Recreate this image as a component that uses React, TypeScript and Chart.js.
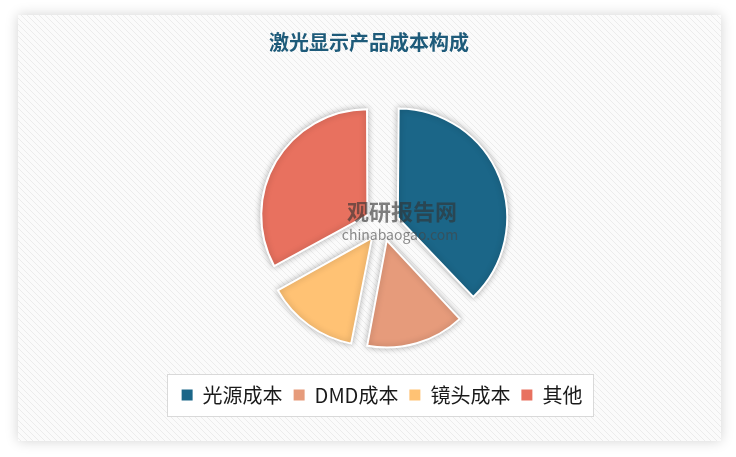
import React, { useEffect, useRef } from 'react';
import { Chart, registerables } from 'chart.js';

Chart.register(...registerables);

const categories = ['光源成本', 'DMD成本', '镜头成本', '其他'];
const shares = [38, 15, 14, 33];
const sliceColors = ['#1b6688', '#e69b7b', '#ffc274', '#e8715f'];
const chartTitle = '激光显示产品成本构成';
const watermarkMain = '观研报告网';
const watermarkSub = 'chinabaogao.com';

const FONT = '"Noto Sans CJK SC", "Noto Sans", sans-serif';

function makeStripePattern(ctx: CanvasRenderingContext2D) {
  const c = document.createElement('canvas');
  c.width = 6;
  c.height = 6;
  const g = c.getContext('2d')!;
  g.fillStyle = '#fbfbfb';
  g.fillRect(0, 0, 6, 6);
  g.strokeStyle = '#ececec';
  g.lineWidth = 1;
  g.beginPath();
  g.moveTo(-1, -1);
  g.lineTo(7, 7);
  g.moveTo(-1, 5);
  g.lineTo(1, 7);
  g.moveTo(5, -1);
  g.lineTo(7, 1);
  g.stroke();
  return ctx.createPattern(c, 'repeat');
}

const bgPlugin = {
  id: 'bgPanel',
  beforeDraw(chart: any) {
    const { ctx, width, height } = chart;
    ctx.save();
    ctx.fillStyle = '#ffffff';
    ctx.fillRect(0, 0, width, height);
    ctx.shadowColor = 'rgba(0,0,0,0.18)';
    ctx.shadowBlur = 12;
    ctx.fillStyle = '#f8f8f8';
    ctx.fillRect(18, 15, 703, 426);
    ctx.shadowColor = 'transparent';
    ctx.shadowBlur = 0;
    const pat = makeStripePattern(ctx);
    if (pat) {
      ctx.fillStyle = pat;
      ctx.fillRect(18, 15, 703, 426);
    }
    // title
    ctx.font = `bold 20px ${FONT}`;
    ctx.fillStyle = '#1e5b7a';
    ctx.textAlign = 'center';
    ctx.textBaseline = 'middle';
    ctx.fillText(chartTitle, 369, 42);
    // legend frame
    const boxes = chart.legend && chart.legend.legendHitBoxes;
    if (boxes && boxes.length) {
      let minX = Infinity, maxX = -Infinity, minY = Infinity, maxY = -Infinity;
      boxes.forEach((b: any) => {
        minX = Math.min(minX, b.left);
        maxX = Math.max(maxX, b.left + b.width);
        minY = Math.min(minY, b.top);
        maxY = Math.max(maxY, b.top + b.height);
      });
      const x0 = Math.round(minX - 15) + 0.5;
      const x1 = Math.round(maxX + 11) + 0.5;
      const y0 = Math.round(minY - 11) + 0.5;
      const y1 = Math.round(maxY + 11) + 0.5;
      ctx.fillStyle = '#ffffff';
      ctx.fillRect(x0, y0, x1 - x0, y1 - y0);
      ctx.strokeStyle = '#d9d9d9';
      ctx.lineWidth = 1;
      ctx.strokeRect(x0, y0, x1 - x0, y1 - y0);
    }
    ctx.restore();
  },
  beforeDatasetsDraw(chart: any) {
    const { ctx } = chart;
    ctx.save();
    ctx.shadowColor = 'rgba(0,0,0,0.28)';
    ctx.shadowBlur = 6;
    ctx.shadowOffsetX = 0;
    ctx.shadowOffsetY = 0;
  },
  afterDatasetsDraw(chart: any) {
    const { ctx } = chart;
    ctx.restore();
    ctx.save();
    ctx.textAlign = 'center';
    ctx.textBaseline = 'middle';
    ctx.font = `bold 22px ${FONT}`;
    ctx.fillStyle = 'rgba(50,50,50,0.62)';
    ctx.fillText(watermarkMain, 402, 212);
    ctx.font = `14px ${FONT}`;
    ctx.fillStyle = 'rgba(70,70,70,0.62)';
    ctx.fillText(watermarkSub, 400, 235);
    ctx.restore();
  },
};

export default function App() {
  const ref = useRef<HTMLCanvasElement | null>(null);

  useEffect(() => {
    if (!ref.current) return;
    const chart = new Chart(ref.current, {
      type: 'pie',
      data: {
        labels: categories,
        datasets: [
          {
            data: shares,
            backgroundColor: sliceColors,
            borderColor: '#ffffff',
            borderWidth: 2,
            borderJoinStyle: 'miter',
            offset: 68,
          } as any,
        ],
      },
      options: {
        responsive: false,
        devicePixelRatio: 1,
        animation: false,
        radius: 104,
        layout: { padding: { left: 40, right: 12, top: 74, bottom: 42 } },
        plugins: {
          title: { display: false },
          tooltip: { enabled: false },
          legend: {
            display: true,
            position: 'bottom',
            labels: {
              font: { family: FONT, size: 20 },
              color: '#1a1a1a',
              boxWidth: 11,
              boxHeight: 11,
              padding: 11,
              generateLabels: (c: any) => {
                const items = (Chart as any).overrides.pie.plugins.legend.labels.generateLabels(c);
                return items.map((it: any) => ({ ...it, strokeStyle: it.fillStyle, lineWidth: 0 }));
              },
            },
          },
        },
      } as any,
      plugins: [bgPlugin],
    });
    return () => chart.destroy();
  }, []);

  return (
    <div style={{ position: 'fixed', left: 0, top: 0, width: 736, height: 457 }}>
      <canvas ref={ref} width={736} height={457} style={{ display: 'block' }} />
    </div>
  );
}
